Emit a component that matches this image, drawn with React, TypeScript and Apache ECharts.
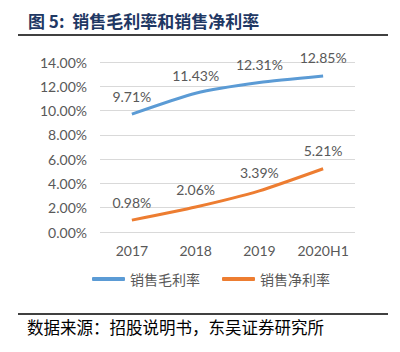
import React, { useEffect, useRef } from "react";
import * as echarts from "echarts";

const categories = ["2017", "2018", "2019", "2020H1"];
const grossMargin = [9.71, 11.43, 12.31, 12.85];
const netMargin = [0.98, 2.06, 3.39, 5.21];
const seriesNames = ["销售毛利率", "销售净利率"];
const titleText = "图 5:  销售毛利率和销售净利率";
const sourceText = "数据来源：招股说明书，东吴证券研究所";

export default function App() {
  const ref = useRef<HTMLDivElement>(null);
  useEffect(() => {
    const chart = echarts.init(ref.current!, null, { renderer: "svg" });
    const font = "Lato, 'Noto Sans', 'Noto Sans CJK SC', sans-serif";
    const labelStyle = {
      show: true,
      position: "top" as const,
      distance: 11,
      color: "#595959",
      fontSize: 14,
      fontFamily: font,
      formatter: (p: any) => p.value.toFixed(2) + "%",
    };
    chart.setOption({
      animation: false,
      backgroundColor: "#ffffff",
      grid: { left: 100, right: 45, top: 62, bottom: 120 },
      xAxis: {
        type: "category",
        data: categories,
        axisLine: { show: false },
        axisTick: { show: false },
        axisLabel: { color: "#595959", fontSize: 14, fontFamily: font, margin: 11, interval: 0 },
      },
      yAxis: {
        type: "value",
        min: 0,
        max: 14,
        interval: 2,
        axisLine: { show: false },
        axisTick: { show: false },
        splitLine: { lineStyle: { color: "#d9d9d9", width: 1 } },
        axisLabel: {
          color: "#595959",
          fontSize: 14,
          fontFamily: font,
          margin: 13,
          formatter: (v: number) => v.toFixed(2) + "%",
        },
      },
      legend: {
        bottom: 61,
        left: 87,
        itemWidth: 33,
        itemHeight: 4,
        itemGap: 22,
        icon: "roundRect",
        textStyle: { color: "#595959", fontSize: 14, fontFamily: font },
        data: seriesNames,
      },
      series: [
        {
          name: seriesNames[0],
          type: "line",
          data: grossMargin,
          smooth: 0.2,
          symbol: "circle",
          symbolSize: 0,
          showSymbol: true,
          lineStyle: { color: "#5b9bd5", width: 3 },
          itemStyle: { color: "#5b9bd5" },
          label: labelStyle,
        },
        {
          name: seriesNames[1],
          type: "line",
          data: netMargin,
          smooth: 0.2,
          symbol: "circle",
          symbolSize: 0,
          showSymbol: true,
          lineStyle: { color: "#ed7d31", width: 3 },
          itemStyle: { color: "#ed7d31" },
          label: labelStyle,
        },
      ],
      graphic: [
        {
          type: "text",
          left: 28,
          top: 12,
          style: {
            text: titleText,
            fill: "#1f3864",
            fontSize: 17,
            fontWeight: "bold",
            fontFamily: "'Noto Sans CJK SC', serif",
          },
        },
        {
          type: "line",
          shape: { x1: 18, y1: 35, x2: 388, y2: 35 },
          style: { stroke: "#000000", lineWidth: 1.5 },
        },
        {
          type: "line",
          shape: { x1: 18, y1: 314, x2: 388, y2: 314 },
          style: { stroke: "#000000", lineWidth: 1.5 },
        },
        {
          type: "text",
          left: 27,
          top: 319,
          style: {
            text: sourceText,
            fill: "#000000",
            fontSize: 16.5,
            fontFamily: "'Noto Sans CJK SC', serif",
          },
        },
      ],
    });
    return () => chart.dispose();
  }, []);
  return <div ref={ref} style={{ width: 400, height: 352, position: "absolute", left: 0, top: 0 }} />;
}
